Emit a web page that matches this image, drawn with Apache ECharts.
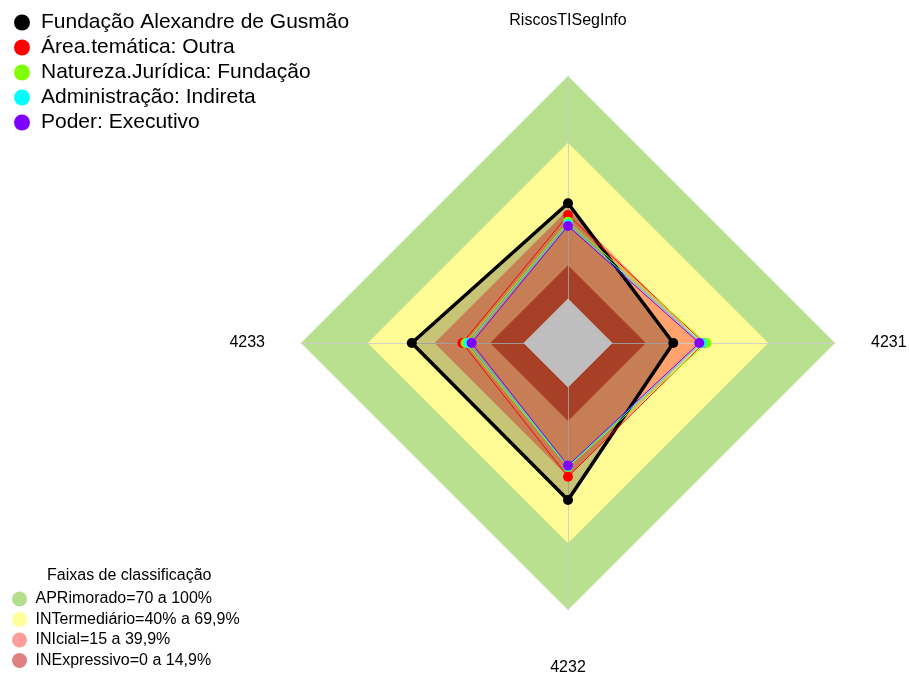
<!DOCTYPE html>
<html>
<head>
<meta charset="utf-8">
<script src="https://cdn.jsdelivr.net/npm/echarts@6/dist/echarts.min.js"></script>
<style>
  html, body { margin: 0; padding: 0; background: #fff; }
  #chart { width: 909px; height: 675px; }
</style>
</head>
<body>
<div id="chart"></div>
<script>
// indicators, counter-clockwise from the top
const indicators = ['RiscosTISegInfo', '4233', '4232', '4231'];

// values per indicator (same order as above)
const fundacao   = [42.8, 50.2, 50.6, 27.3];
const areaOutra  = [37.5, 27.5, 40.1, 41.1];
const natureza   = [34.5, 26.0, 35.7, 42.3];
const administra = [33.5, 24.8, 35.4, 40.2];
const poder      = [32.6, 23.3, 35.1, 39.0];

const seriesNames = [
  'Fundação Alexandre de Gusmão',
  'Área.temática: Outra',
  'Natureza.Jurídica: Fundação',
  'Administração: Indireta',
  'Poder: Executivo'
];
const seriesColors = ['#000000', '#ff0000', '#80ff00', '#00ffff', '#8000ff'];

// classification bands
const bandNames = [
  'APRimorado=70 a 100%',
  'INTermediário=40% a 69,9%',
  'INIcial=15 a 39,9%',
  'INExpressivo=0 a 14,9%'
];
const bandLimits = [100, 70, 40, 15];
const bandFill   = ['#b8e08e', '#fffc96', '#ffa26e', '#d75233'];
const bandLegend = ['#b4de8c', '#ffff99', '#ff9c9c', '#df8080'];

const chartDom = document.getElementById('chart');
const chart = echarts.init(chartDom);

const series = [];
bandNames.forEach((name, i) => {
  const v = bandLimits[i];
  series.push({
    type: 'radar',
    name: name,
    z: 1,
    silent: true,
    symbol: 'none',
    itemStyle: { color: bandLegend[i] },
    lineStyle: { width: 0 },
    areaStyle: { color: bandFill[i], opacity: 1 },
    data: [{ value: indicators.map(() => v), name: name }]
  });
});

const dataSets = [fundacao, areaOutra, natureza, administra, poder];
dataSets.forEach((vals, i) => {
  series.push({
    type: 'radar',
    name: seriesNames[i],
    z: 3,
    symbol: 'circle',
    symbolSize: 10,
    itemStyle: { color: seriesColors[i] },
    lineStyle: { color: seriesColors[i], width: i === 0 ? 3.5 : 1 },
    areaStyle: i === 0 ? { color: 'rgba(0,0,0,0.22)', opacity: 1 } : undefined,
    emphasis: { disabled: true },
    data: [{ value: vals, name: seriesNames[i] }]
  });
});

// grey centre hole
series.push({
  type: 'radar',
  name: 'hole',
  z: 4,
  silent: true,
  symbol: 'none',
  lineStyle: { width: 0 },
  areaStyle: { color: '#bebebe', opacity: 1 },
  data: [{ value: indicators.map(() => 0), name: 'hole' }]
});

const option = {
  animation: false,
  title: {
    text: 'Faixas de classificação',
    left: 42,
    top: 563,
    textStyle: { fontFamily: 'Liberation Sans', fontSize: 16, fontWeight: 'normal', color: '#000' }
  },
  legend: [
    {
      data: seriesNames,
      orient: 'vertical',
      left: 9,
      top: 7,
      icon: 'circle',
      itemWidth: 28,
      itemHeight: 16,
      itemGap: 4,
      selectedMode: false,
      textStyle: { fontFamily: 'Liberation Sans', fontSize: 21, lineHeight: 21, color: '#000' }
    },
    {
      data: bandNames,
      orient: 'vertical',
      left: 12,
      top: 591,
      padding: 0,
      height: 80,
      icon: 'circle',
      itemWidth: 22,
      itemHeight: 15,
      itemGap: 4.5,
      selectedMode: false,
      textStyle: { fontFamily: 'Liberation Sans', fontSize: 16, lineHeight: 16, color: '#000' }
    }
  ],
  radar: {
    center: [568, 343],
    radius: 267,
    shape: 'polygon',
    startAngle: 90,
    z: 2,
    splitNumber: 1,
    axisNameGap: 36,
    axisName: {
      color: '#000',
      fontFamily: 'Liberation Sans',
      fontSize: 16,
      formatter: (name) => (name === 'RiscosTISegInfo' || name === '4232') ? '{v|' + name + '}' : name,
      rich: {
        v: { fontFamily: 'Liberation Sans', fontSize: 16, color: '#000', padding: [14, 0, 11, 0] }
      }
    },
    axisLine: { lineStyle: { color: 'rgba(205,205,205,0.9)', width: 1 } },
    splitLine: { show: false },
    splitArea: { show: false },
    indicator: indicators.map(n => ({ name: n, min: -20, max: 100 }))
  },
  series: series
};

chart.setOption(option);
</script>
</body>
</html>
